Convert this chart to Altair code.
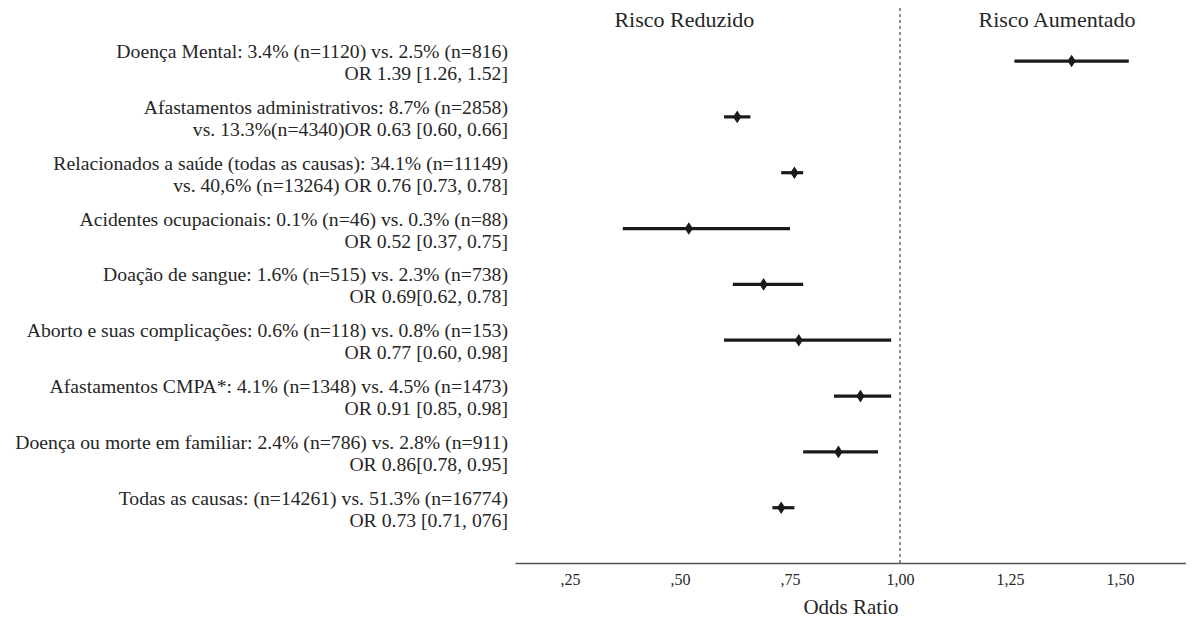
import altair as alt
import pandas as pd

labels_line1 = [
    "Doença Mental: 3.4% (n=1120) vs. 2.5% (n=816)",
    "Afastamentos administrativos: 8.7% (n=2858)",
    "Relacionados a saúde (todas as causas): 34.1% (n=11149)",
    "Acidentes ocupacionais: 0.1% (n=46) vs. 0.3% (n=88)",
    "Doação de sangue: 1.6% (n=515) vs. 2.3% (n=738)",
    "Aborto e suas complicações: 0.6% (n=118) vs. 0.8% (n=153)",
    "Afastamentos CMPA*: 4.1% (n=1348) vs. 4.5% (n=1473)",
    "Doença ou morte em familiar: 2.4% (n=786) vs. 2.8% (n=911)",
    "Todas as causas: (n=14261) vs. 51.3% (n=16774)",
]
labels_line2 = [
    "OR 1.39 [1.26, 1.52]",
    "vs. 13.3%(n=4340)OR 0.63 [0.60, 0.66]",
    "vs. 40,6% (n=13264) OR 0.76 [0.73, 0.78]",
    "OR 0.52 [0.37, 0.75]",
    "OR 0.69[0.62, 0.78]",
    "OR 0.77 [0.60, 0.98]",
    "OR 0.91 [0.85, 0.98]",
    "OR 0.86[0.78, 0.95]",
    "OR 0.73 [0.71, 076]",
]
odds = [1.39, 0.63, 0.76, 0.52, 0.69, 0.77, 0.91, 0.86, 0.73]
ci_low = [1.26, 0.60, 0.73, 0.37, 0.62, 0.60, 0.85, 0.78, 0.71]
ci_high = [1.52, 0.66, 0.78, 0.75, 0.78, 0.98, 0.98, 0.95, 0.76]
tick_values = [0.25, 0.5, 0.75, 1.0, 1.25, 1.5]
headers = ["Risco Reduzido", "Risco Aumentado"]
header_pos = [0.51, 1.357]

df = pd.DataFrame({
    "row": list(range(len(odds))),
    "l1": labels_line1,
    "l2": labels_line2,
    "or": odds,
    "lo": ci_low,
    "hi": ci_high,
})

FONT = "Liberation Serif"
TXT = "#262626"

xscale = alt.Scale(domain=[0.125, 1.65], nice=False, zero=False)
yscale = alt.Scale(domain=[-0.95, 8.99], reverse=True, nice=False, zero=False)

base = alt.Chart(df)

ci = base.mark_rule(color="#1a1a1a", strokeWidth=3.2).encode(
    x=alt.X("lo:Q", scale=xscale, axis=alt.Axis(
        values=tick_values,
        labelExpr="replace(datum.value < 1 ? substring(format(datum.value, '.2f'), 1) : format(datum.value, '.2f'), '.', ',')",
        title="Odds Ratio", grid=False, ticks=False,
        domainColor="#555555", domainWidth=1.5,
        labelFont=FONT, labelFontSize=16, labelColor=TXT, labelPadding=8,
        titleFont=FONT, titleFontSize=21, titleFontWeight="normal", titleColor=TXT,
        titlePadding=9,
    )),
    x2="hi:Q",
    y=alt.Y("row:Q", scale=yscale, axis=None),
)

pts = base.mark_point(
    shape="M0,-1L0.65,0L0,1L-0.65,0Z", filled=True, opacity=1, color="#1a1a1a", size=160
).encode(
    x=alt.X("or:Q", scale=xscale),
    y=alt.Y("row:Q", scale=yscale),
)

ref = alt.Chart(pd.DataFrame({"v": [1.0]})).mark_rule(
    color="#555555", strokeDash=[3, 3], strokeWidth=1.3
).encode(x=alt.X("v:Q", scale=xscale))

t1 = base.mark_text(align="right", baseline="middle", font=FONT, fontSize=19.7, color=TXT, dy=-9).encode(
    x=alt.value(-7), y=alt.Y("row:Q", scale=yscale), text="l1:N"
)
t2 = base.mark_text(align="right", baseline="middle", font=FONT, fontSize=19.7, color=TXT, dy=13).encode(
    x=alt.value(-7), y=alt.Y("row:Q", scale=yscale), text="l2:N"
)

hdr = alt.Chart(pd.DataFrame({"h": headers, "hx": header_pos})).mark_text(
    align="center", baseline="middle", font=FONT, fontSize=22, color=TXT
).encode(x=alt.X("hx:Q", scale=xscale), y=alt.value(12), text="h:N")

chart = alt.layer(ref, ci, pts, t1, t2, hdr).properties(
    width=671, height=555,
    autosize=alt.AutoSizeParams(type="none"),
    padding={"left": 507, "top": 0, "right": 0, "bottom": 56},
).configure(background="white").configure_view(stroke=None, strokeWidth=0)

chart.save("out.html", embed_options={"renderer": "svg", "actions": False})
